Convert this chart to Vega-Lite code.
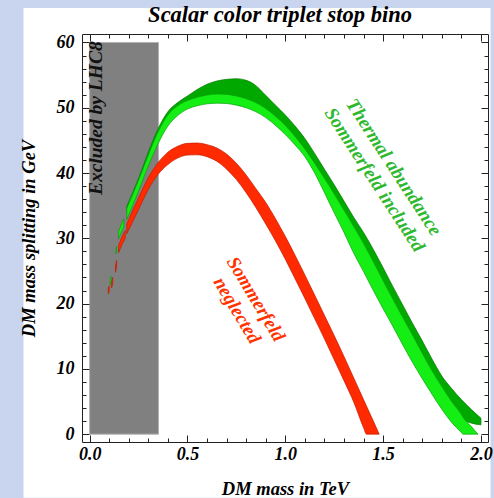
{
  "$schema": "https://vega.github.io/schema/vega-lite/v6.json",
  "width": 406,
  "height": 408,
  "autosize": {"type": "none"},
  "padding": {"left": 82, "top": 34, "right": 6, "bottom": 56},
  "background": "#c9d5ee",
  "view": {"stroke": null},
  "config": {
    "axis": {"grid": false, "zindex": 1, "domainColor": "#222222", "domainWidth": 1, "tickColor": "#222222", "tickWidth": 1, "labelFont": "Liberation Serif", "titleFont": "Liberation Serif", "labelColor": "#000000", "titleColor": "#000000"}
  },
  "resolve": {"axis": {"x": "independent", "y": "independent"}},
  "datasets": {
    "bands": [
      {"b":"D","s":"d0","x":0.19,"lo":34.2,"hi":34.9},
      {"b":"D","s":"d0","x":0.22,"lo":36.3,"hi":37.0},
      {"b":"D","s":"d0","x":0.25,"lo":38.5,"hi":39.2},
      {"b":"D","s":"d0","x":0.28,"lo":40.8,"hi":41.6},
      {"b":"D","s":"d0","x":0.31,"lo":43.1,"hi":44.0},
      {"b":"D","s":"d0","x":0.35,"lo":45.9,"hi":46.8},
      {"b":"D","s":"d0","x":0.40,"lo":48.5,"hi":49.4},
      {"b":"D","s":"d0","x":0.45,"lo":49.9,"hi":50.8},
      {"b":"D","s":"d0","x":0.50,"lo":50.7,"hi":51.8},
      {"b":"D","s":"d0","x":0.55,"lo":51.2,"hi":52.8},
      {"b":"D","s":"d0","x":0.60,"lo":51.55,"hi":53.6},
      {"b":"D","s":"d0","x":0.65,"lo":51.7,"hi":54.1},
      {"b":"D","s":"d0","x":0.70,"lo":51.65,"hi":54.35},
      {"b":"D","s":"d0","x":0.75,"lo":51.4,"hi":54.45},
      {"b":"D","s":"d0","x":0.80,"lo":51.0,"hi":54.2},
      {"b":"D","s":"d0","x":0.845,"lo":50.45,"hi":53.5},
      {"b":"D","s":"d0","x":0.90,"lo":49.5,"hi":51.9},
      {"b":"D","s":"d0","x":0.95,"lo":48.3,"hi":50.4},
      {"b":"D","s":"d0","x":1.00,"lo":46.9,"hi":48.9},
      {"b":"D","s":"d0","x":1.05,"lo":45.2,"hi":47.2},
      {"b":"D","s":"d0","x":1.10,"lo":43.3,"hi":45.3},
      {"b":"D","s":"d0","x":1.15,"lo":41.1,"hi":43.0},
      {"b":"D","s":"d0","x":1.20,"lo":38.8,"hi":40.6},
      {"b":"D","s":"d0","x":1.25,"lo":36.4,"hi":38.2},
      {"b":"D","s":"d0","x":1.30,"lo":33.9,"hi":35.7},
      {"b":"D","s":"d0","x":1.35,"lo":31.4,"hi":33.2},
      {"b":"D","s":"d0","x":1.40,"lo":28.8,"hi":30.9},
      {"b":"D","s":"d0","x":1.45,"lo":26.0,"hi":28.3},
      {"b":"D","s":"d0","x":1.50,"lo":23.1,"hi":25.5},
      {"b":"D","s":"d0","x":1.55,"lo":20.25,"hi":22.6},
      {"b":"D","s":"d0","x":1.60,"lo":17.5,"hi":19.8},
      {"b":"D","s":"d0","x":1.65,"lo":14.8,"hi":17.0},
      {"b":"D","s":"d0","x":1.70,"lo":12.0,"hi":14.3},
      {"b":"D","s":"d0","x":1.75,"lo":9.3,"hi":11.5},
      {"b":"D","s":"d0","x":1.80,"lo":6.9,"hi":8.9},
      {"b":"D","s":"d0","x":1.85,"lo":4.6,"hi":7.0},
      {"b":"D","s":"d0","x":1.90,"lo":2.4,"hi":5.3},
      {"b":"D","s":"d0","x":1.95,"lo":1.7,"hi":3.8},
      {"b":"D","s":"d0","x":2.00,"lo":1.43,"hi":2.45},
      {"b":"B","s":"b1","x":0.104,"lo":22.8,"hi":23.6},
      {"b":"B","s":"b1","x":0.110,"lo":23.4,"hi":24.2},
      {"b":"B","s":"b2","x":0.134,"lo":27.6,"hi":28.4},
      {"b":"B","s":"b2","x":0.138,"lo":28.0,"hi":28.8},
      {"b":"B","s":"b3","x":0.148,"lo":29.9,"hi":31.0},
      {"b":"B","s":"b3","x":0.160,"lo":30.8,"hi":32.0},
      {"b":"B","s":"b3","x":0.175,"lo":31.8,"hi":33.0},
      {"b":"B","s":"b0","x":0.19,"lo":32.9,"hi":34.6},
      {"b":"B","s":"b0","x":0.22,"lo":35.0,"hi":36.7},
      {"b":"B","s":"b0","x":0.25,"lo":37.2,"hi":38.9},
      {"b":"B","s":"b0","x":0.28,"lo":39.6,"hi":41.2},
      {"b":"B","s":"b0","x":0.31,"lo":41.8,"hi":43.5},
      {"b":"B","s":"b0","x":0.35,"lo":44.5,"hi":46.3},
      {"b":"B","s":"b0","x":0.40,"lo":47.2,"hi":48.9},
      {"b":"B","s":"b0","x":0.45,"lo":48.8,"hi":50.3},
      {"b":"B","s":"b0","x":0.50,"lo":49.8,"hi":51.1},
      {"b":"B","s":"b0","x":0.55,"lo":50.3,"hi":51.6},
      {"b":"B","s":"b0","x":0.60,"lo":50.6,"hi":51.95},
      {"b":"B","s":"b0","x":0.65,"lo":50.7,"hi":52.1},
      {"b":"B","s":"b0","x":0.70,"lo":50.65,"hi":52.05},
      {"b":"B","s":"b0","x":0.75,"lo":50.4,"hi":51.8},
      {"b":"B","s":"b0","x":0.80,"lo":50.0,"hi":51.4},
      {"b":"B","s":"b0","x":0.845,"lo":49.45,"hi":50.85},
      {"b":"B","s":"b0","x":0.90,"lo":48.5,"hi":49.9},
      {"b":"B","s":"b0","x":0.95,"lo":47.3,"hi":48.7},
      {"b":"B","s":"b0","x":1.00,"lo":45.9,"hi":47.3},
      {"b":"B","s":"b0","x":1.05,"lo":44.3,"hi":45.6},
      {"b":"B","s":"b0","x":1.10,"lo":42.5,"hi":43.7},
      {"b":"B","s":"b0","x":1.15,"lo":40.0,"hi":41.5},
      {"b":"B","s":"b0","x":1.20,"lo":37.0,"hi":39.2},
      {"b":"B","s":"b0","x":1.25,"lo":33.9,"hi":36.8},
      {"b":"B","s":"b0","x":1.30,"lo":30.9,"hi":34.3},
      {"b":"B","s":"b0","x":1.35,"lo":27.7,"hi":31.8},
      {"b":"B","s":"b0","x":1.40,"lo":24.9,"hi":29.2},
      {"b":"B","s":"b0","x":1.45,"lo":22.0,"hi":26.4},
      {"b":"B","s":"b0","x":1.50,"lo":19.2,"hi":23.5},
      {"b":"B","s":"b0","x":1.55,"lo":16.5,"hi":20.65},
      {"b":"B","s":"b0","x":1.60,"lo":13.7,"hi":17.9},
      {"b":"B","s":"b0","x":1.65,"lo":11.0,"hi":15.2},
      {"b":"B","s":"b0","x":1.70,"lo":8.5,"hi":12.4},
      {"b":"B","s":"b0","x":1.75,"lo":6.1,"hi":9.7},
      {"b":"B","s":"b0","x":1.80,"lo":3.8,"hi":7.3},
      {"b":"B","s":"b0","x":1.85,"lo":1.8,"hi":5.0},
      {"b":"B","s":"b0","x":1.90,"lo":0.25,"hi":3.0},
      {"b":"B","s":"b0","x":1.908,"lo":0,"hi":2.6},
      {"b":"B","s":"b0","x":1.95,"lo":0,"hi":1.2},
      {"b":"B","s":"b0","x":1.985,"lo":0,"hi":0},
      {"b":"R","s":"r1","x":0.095,"lo":21.5,"hi":22.3},
      {"b":"R","s":"r1","x":0.100,"lo":21.9,"hi":22.7},
      {"b":"R","s":"r2","x":0.112,"lo":22.4,"hi":23.4},
      {"b":"R","s":"r2","x":0.118,"lo":23.0,"hi":24.0},
      {"b":"R","s":"r3","x":0.132,"lo":24.8,"hi":25.9},
      {"b":"R","s":"r3","x":0.138,"lo":25.5,"hi":26.6},
      {"b":"R","s":"r4","x":0.148,"lo":27.8,"hi":28.9},
      {"b":"R","s":"r4","x":0.165,"lo":29.0,"hi":30.2},
      {"b":"R","s":"r4","x":0.182,"lo":30.0,"hi":31.2},
      {"b":"R","s":"r0","x":0.19,"lo":30.7,"hi":32.2},
      {"b":"R","s":"r0","x":0.20,"lo":31.3,"hi":32.9},
      {"b":"R","s":"r0","x":0.25,"lo":34.4,"hi":36.2},
      {"b":"R","s":"r0","x":0.30,"lo":37.5,"hi":39.3},
      {"b":"R","s":"r0","x":0.35,"lo":39.8,"hi":41.6},
      {"b":"R","s":"r0","x":0.40,"lo":41.3,"hi":43.2},
      {"b":"R","s":"r0","x":0.45,"lo":42.3,"hi":44.1},
      {"b":"R","s":"r0","x":0.50,"lo":42.75,"hi":44.55},
      {"b":"R","s":"r0","x":0.55,"lo":42.8,"hi":44.6},
      {"b":"R","s":"r0","x":0.60,"lo":42.5,"hi":44.35},
      {"b":"R","s":"r0","x":0.65,"lo":41.8,"hi":43.85},
      {"b":"R","s":"r0","x":0.70,"lo":40.6,"hi":42.9},
      {"b":"R","s":"r0","x":0.75,"lo":39.0,"hi":41.5},
      {"b":"R","s":"r0","x":0.80,"lo":37.0,"hi":39.7},
      {"b":"R","s":"r0","x":0.85,"lo":34.7,"hi":37.6},
      {"b":"R","s":"r0","x":0.90,"lo":32.2,"hi":35.5},
      {"b":"R","s":"r0","x":0.95,"lo":29.6,"hi":33.0},
      {"b":"R","s":"r0","x":1.00,"lo":26.8,"hi":30.3},
      {"b":"R","s":"r0","x":1.05,"lo":23.8,"hi":27.4},
      {"b":"R","s":"r0","x":1.10,"lo":20.8,"hi":24.4},
      {"b":"R","s":"r0","x":1.15,"lo":17.7,"hi":21.3},
      {"b":"R","s":"r0","x":1.20,"lo":14.6,"hi":18.2},
      {"b":"R","s":"r0","x":1.25,"lo":11.4,"hi":15.1},
      {"b":"R","s":"r0","x":1.30,"lo":8.2,"hi":11.9},
      {"b":"R","s":"r0","x":1.35,"lo":4.9,"hi":8.6},
      {"b":"R","s":"r0","x":1.40,"lo":1.0,"hi":5.3},
      {"b":"R","s":"r0","x":1.415,"lo":0,"hi":4.3},
      {"b":"R","s":"r0","x":1.45,"lo":0,"hi":2.0},
      {"b":"R","s":"r0","x":1.48,"lo":0,"hi":0}
    ]
  },
  "layer": [
    {
      "data": {"values": [{"x1": -0.338, "x2": 2.049, "y1": -9.75, "y2": 65.28}]},
      "mark": {"type": "rect", "color": "#ffffff", "clip": false, "zindex": 0},
      "encoding": {
        "x": {"field": "x1", "type": "quantitative", "scale": {"domain": [-0.039, 2.036], "nice": false, "zero": false},
              "axis": {"orient": "bottom", "zindex": 2, "values": [0, 0.5, 1, 1.5, 2], "format": ".1f", "ticks": false, "domain": true, "labelPadding": 3, "labelFontSize": 18, "labelFontWeight": "bold", "labelFontStyle": "italic", "labelFlush": false, "labelOverlap": false, "title": "DM mass in TeV", "titleFontSize": 18.5, "titleFontWeight": "bold", "titleFontStyle": "italic", "titlePadding": 16}},
        "x2": {"field": "x2"},
        "y": {"field": "y1", "type": "quantitative", "scale": {"domain": [-1.2, 61.3], "nice": false, "zero": false},
              "axis": {"orient": "left", "zindex": 2, "values": [0, 10, 20, 30, 40, 50, 60], "ticks": false, "domain": true, "labelPadding": 8, "labelFontSize": 18, "labelFontWeight": "bold", "labelFontStyle": "italic", "labelOverlap": false, "labelFlush": false, "title": "DM mass splitting in GeV", "titleFontSize": 18.5, "titleFontWeight": "bold", "titleFontStyle": "italic", "titlePadding": 18}},
        "y2": {"field": "y2"}
      }
    },
    {
      "data": {"values": [{"x1": 0, "x2": 0.352, "y1": 0, "y2": 60}]},
      "mark": {"type": "rect", "fill": "#808080", "stroke": "#b4b4b4", "strokeWidth": 1},
      "encoding": {
        "x": {"field": "x1", "type": "quantitative", "scale": {"domain": [-0.039, 2.036], "nice": false, "zero": false},
              "axis": {"orient": "bottom", "zindex": 2, "values": [0, 0.5, 1, 1.5, 2], "labels": false, "domain": false, "tickSize": -7, "title": null}},
        "x2": {"field": "x2"},
        "y": {"field": "y1", "type": "quantitative", "scale": {"domain": [-1.2, 61.3], "nice": false, "zero": false},
              "axis": {"orient": "left", "zindex": 2, "values": [0, 10, 20, 30, 40, 50, 60], "labels": false, "domain": false, "tickSize": -7, "title": null}},
        "y2": {"field": "y2"}
      }
    },
    {
      "data": {"name": "bands"},
      "transform": [{"filter": "datum.b === 'D'"}],
      "mark": {"type": "area", "fill": "#00a800", "stroke": "#007a00", "strokeWidth": 0.7, "interpolate": "monotone"},
      "encoding": {
        "x": {"field": "x", "type": "quantitative", "scale": {"domain": [-0.039, 2.036], "nice": false, "zero": false},
              "axis": {"orient": "bottom", "zindex": 2, "values": [0.1,0.2,0.3,0.4,0.6,0.7,0.8,0.9,1.1,1.2,1.3,1.4,1.6,1.7,1.8,1.9], "labels": false, "domain": false, "tickSize": -4, "title": null}},
        "y": {"field": "hi", "type": "quantitative", "scale": {"domain": [-1.2, 61.3], "nice": false, "zero": false},
              "axis": {"orient": "left", "zindex": 2, "values": [2,4,6,8,12,14,16,18,22,24,26,28,32,34,36,38,42,44,46,48,52,54,56,58], "labels": false, "domain": false, "tickSize": -4, "title": null}},
        "y2": {"field": "lo"},
        "detail": {"field": "s"}
      }
    },
    {
      "data": {"name": "bands"},
      "transform": [{"filter": "datum.b === 'B'"}],
      "mark": {"type": "area", "fill": "#14ee14", "stroke": "#0aa00a", "strokeWidth": 0.7, "interpolate": "monotone"},
      "encoding": {
        "x": {"field": "x", "type": "quantitative", "scale": {"domain": [-0.039, 2.036], "nice": false, "zero": false},
              "axis": {"orient": "top", "zindex": 2, "values": [0, 0.5, 1, 1.5, 2], "labels": false, "domain": true, "tickSize": -7, "title": null}},
        "y": {"field": "hi", "type": "quantitative", "scale": {"domain": [-1.2, 61.3], "nice": false, "zero": false},
              "axis": {"orient": "right", "zindex": 2, "values": [0, 10, 20, 30, 40, 50, 60], "labels": false, "domain": true, "tickSize": -7, "title": null}},
        "y2": {"field": "lo"},
        "detail": {"field": "s"}
      }
    },
    {
      "data": {"name": "bands"},
      "transform": [{"filter": "datum.b === 'R'"}],
      "mark": {"type": "area", "fill": "#ff2a00", "stroke": "#c41a00", "strokeWidth": 0.7, "interpolate": "monotone"},
      "encoding": {
        "x": {"field": "x", "type": "quantitative", "scale": {"domain": [-0.039, 2.036], "nice": false, "zero": false},
              "axis": {"orient": "top", "zindex": 2, "values": [0.1,0.2,0.3,0.4,0.6,0.7,0.8,0.9,1.1,1.2,1.3,1.4,1.6,1.7,1.8,1.9], "labels": false, "domain": false, "tickSize": -4, "title": null}},
        "y": {"field": "hi", "type": "quantitative", "scale": {"domain": [-1.2, 61.3], "nice": false, "zero": false},
              "axis": {"orient": "right", "zindex": 2, "values": [2,4,6,8,12,14,16,18,22,24,26,28,32,34,36,38,42,44,46,48,52,54,56,58], "labels": false, "domain": false, "tickSize": -4, "title": null}},
        "y2": {"field": "lo"},
        "detail": {"field": "s"}
      }
    },
    {
      "data": {"values": [{"x": 0.034, "y": 48.4, "t": "Excluded by LHC8"}]},
      "mark": {"type": "text", "angle": 270, "font": "Liberation Serif", "fontSize": 19.5, "fontWeight": "bold", "fontStyle": "italic", "color": "#111111", "align": "center", "baseline": "middle"},
      "encoding": {
        "x": {"field": "x", "type": "quantitative", "axis": null},
        "y": {"field": "y", "type": "quantitative", "axis": null},
        "text": {"field": "t"}
      }
    },
    {
      "data": {"values": [{"x": 1.555, "y": 40.9, "t": "Thermal abundance\nSommerfeld included"}]},
      "mark": {"type": "text", "angle": 57, "lineBreak": "\n", "lineHeight": 23, "font": "Liberation Serif", "fontSize": 19, "fontWeight": "bold", "fontStyle": "italic", "color": "#2eb82e", "align": "center", "baseline": "middle"},
      "encoding": {
        "x": {"field": "x", "type": "quantitative", "axis": null},
        "y": {"field": "y", "type": "quantitative", "axis": null},
        "text": {"field": "t"}
      }
    },
    {
      "data": {"values": [{"x": 0.85, "y": 20.7, "t": "Sommerfeld\nneglected"}]},
      "mark": {"type": "text", "angle": 59, "lineBreak": "\n", "lineHeight": 22, "font": "Liberation Serif", "fontSize": 19, "fontWeight": "bold", "fontStyle": "italic", "color": "#ff3300", "align": "center", "baseline": "middle"},
      "encoding": {
        "x": {"field": "x", "type": "quantitative", "axis": null},
        "y": {"field": "y", "type": "quantitative", "axis": null},
        "text": {"field": "t"}
      }
    },
    {
      "data": {"values": [{"x": 0.973, "y": 63.2, "t": "Scalar color triplet  stop bino"}]},
      "mark": {"type": "text", "font": "Liberation Serif", "fontSize": 22.5, "fontWeight": "bold", "fontStyle": "italic", "color": "#000000", "align": "center", "baseline": "alphabetic", "clip": false},
      "encoding": {
        "x": {"field": "x", "type": "quantitative", "axis": null},
        "y": {"field": "y", "type": "quantitative", "axis": null},
        "text": {"field": "t"}
      }
    }
  ]
}
